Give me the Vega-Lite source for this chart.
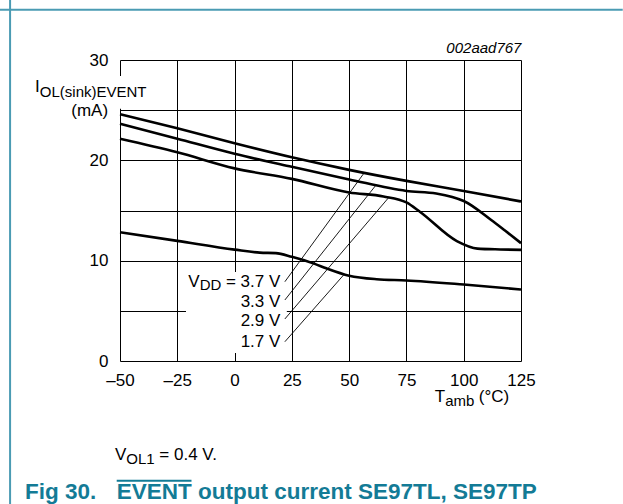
{
  "$schema": "https://vega.github.io/schema/vega-lite/v6.json",
  "width": 401,
  "height": 301,
  "autosize": "none",
  "padding": {"left": 120, "top": 60, "right": 102, "bottom": 143},
  "background": "white",
  "config": {
    "view": {"stroke": null},
    "font": "Liberation Sans",
    "axis": {
      "grid": true,
      "gridColor": "#000000",
      "gridOpacity": 1,
      "gridWidth": 1,
      "domain": false,
      "ticks": false,
      "labelFlush": false,
      "labelOverlap": false,
      "labelBound": false,
      "labelFont": "Liberation Sans",
      "labelFontSize": 17,
      "labelColor": "#000000"
    }
  },
  "datasets": {
    "curves": [
      {"vdd": "3.7 V", "temp": -50, "current": 24.6},
      {"vdd": "3.7 V", "temp": -25, "current": 23.2},
      {"vdd": "3.7 V", "temp": 0, "current": 21.7},
      {"vdd": "3.7 V", "temp": 25, "current": 20.3},
      {"vdd": "3.7 V", "temp": 50, "current": 19.05},
      {"vdd": "3.7 V", "temp": 75, "current": 17.95},
      {"vdd": "3.7 V", "temp": 100, "current": 16.95},
      {"vdd": "3.7 V", "temp": 125, "current": 15.9},

      {"vdd": "3.3 V", "temp": -50, "current": 23.65},
      {"vdd": "3.3 V", "temp": -25, "current": 22.15},
      {"vdd": "3.3 V", "temp": 0, "current": 20.65},
      {"vdd": "3.3 V", "temp": 25, "current": 19.35},
      {"vdd": "3.3 V", "temp": 50, "current": 18.1},
      {"vdd": "3.3 V", "temp": 75, "current": 16.95},
      {"vdd": "3.3 V", "temp": 88, "current": 16.7},
      {"vdd": "3.3 V", "temp": 95, "current": 16.35},
      {"vdd": "3.3 V", "temp": 100, "current": 15.95},
      {"vdd": "3.3 V", "temp": 112, "current": 14.05},
      {"vdd": "3.3 V", "temp": 118, "current": 13.0},
      {"vdd": "3.3 V", "temp": 125, "current": 11.75},

      {"vdd": "2.9 V", "temp": -50, "current": 22.15},
      {"vdd": "2.9 V", "temp": -25, "current": 20.8},
      {"vdd": "2.9 V", "temp": 0, "current": 19.2},
      {"vdd": "2.9 V", "temp": 25, "current": 18.15},
      {"vdd": "2.9 V", "temp": 50, "current": 16.8},
      {"vdd": "2.9 V", "temp": 65, "current": 16.4},
      {"vdd": "2.9 V", "temp": 75, "current": 15.8},
      {"vdd": "2.9 V", "temp": 81, "current": 14.85},
      {"vdd": "2.9 V", "temp": 97, "current": 11.95},
      {"vdd": "2.9 V", "temp": 106, "current": 11.2},
      {"vdd": "2.9 V", "temp": 116, "current": 11.12},
      {"vdd": "2.9 V", "temp": 125, "current": 11.08},

      {"vdd": "1.7 V", "temp": -50, "current": 12.83},
      {"vdd": "1.7 V", "temp": -25, "current": 11.97},
      {"vdd": "1.7 V", "temp": 0, "current": 11.1},
      {"vdd": "1.7 V", "temp": 11, "current": 10.8},
      {"vdd": "1.7 V", "temp": 18, "current": 10.75},
      {"vdd": "1.7 V", "temp": 25, "current": 10.38},
      {"vdd": "1.7 V", "temp": 35, "current": 9.68},
      {"vdd": "1.7 V", "temp": 40, "current": 9.24},
      {"vdd": "1.7 V", "temp": 50, "current": 8.5},
      {"vdd": "1.7 V", "temp": 62, "current": 8.15},
      {"vdd": "1.7 V", "temp": 75, "current": 8.03},
      {"vdd": "1.7 V", "temp": 100, "current": 7.62},
      {"vdd": "1.7 V", "temp": 125, "current": 7.13}
    ],
    "leaders": [
      {"vdd": "3.7 V", "t1": 21.95, "i1": 7.9, "t2": 56.4, "i2": 18.7},
      {"vdd": "3.3 V", "t1": 21.95, "i1": 6.08, "t2": 61.6, "i2": 17.5},
      {"vdd": "2.9 V", "t1": 21.95, "i1": 4.19, "t2": 67.3, "i2": 16.3},
      {"vdd": "1.7 V", "t1": 21.95, "i1": 1.92, "t2": 47.7, "i2": 8.6}
    ],
    "one": [{}]
  },
  "layer": [
    {
      "data": {"name": "curves"},
      "mark": {"type": "line", "stroke": "#000000", "strokeWidth": 2.6, "interpolate": "monotone", "strokeJoin": "round"},
      "encoding": {
        "x": {
          "field": "temp", "type": "quantitative",
          "scale": {"domain": [-50, 125], "nice": false, "zero": false},
          "axis": {
            "title": null,
            "values": [-50, -25, 0, 25, 50, 75, 100, 125],
            "labelPadding": 11,
            "labelExpr": "replace(datum.label, '\u2212', '\u2013')"
          }
        },
        "y": {
          "field": "current", "type": "quantitative",
          "scale": {"domain": [0, 30], "nice": false, "zero": false},
          "axis": {
            "title": null,
            "values": [0, 5, 10, 15, 20, 25, 30],
            "labelPadding": 12,
            "labelExpr": "datum.value % 10 == 0 ? datum.label : ''"
          }
        },
        "detail": {"field": "vdd"}
      }
    },
    {
      "data": {"name": "one"},
      "mark": {"type": "rect", "fill": "white"},
      "encoding": {
        "x": {"datum": -52.2, "axis": {"title": null}}, "x2": {"datum": -38.2},
        "y": {"datum": 28.4, "axis": {"title": null}}, "y2": {"datum": 25.15}
      }
    },
    {
      "data": {"name": "one"},
      "mark": {"type": "rect", "fill": "white"},
      "encoding": {
        "x": {"datum": -21.2, "axis": {"title": null}}, "x2": {"datum": 22.8},
        "y": {"datum": 8.87, "axis": {"title": null}}, "y2": {"datum": 0.8}
      }
    },
    {
      "data": {"name": "leaders"},
      "mark": {"type": "rule", "stroke": "#000000", "strokeWidth": 0.9},
      "encoding": {
        "x": {"field": "t1", "type": "quantitative", "axis": {"title": null}},
        "y": {"field": "i1", "type": "quantitative", "axis": {"title": null}},
        "x2": {"field": "t2"},
        "y2": {"field": "i2"}
      }
    },
    {
      "data": {"name": "one"},
      "mark": {"type": "text", "text": "002aad767", "align": "right", "baseline": "alphabetic", "fontSize": 15, "fontStyle": "italic", "font": "Liberation Sans", "color": "#000000"},
      "encoding": {"x": {"datum": 125.2, "axis": {"title": null}}, "y": {"datum": 30.7, "axis": {"title": null}}}
    },
    {
      "data": {"name": "one"},
      "mark": {"type": "text", "text": "I", "align": "left", "baseline": "alphabetic", "fontSize": 17, "font": "Liberation Sans", "color": "#000000"},
      "encoding": {"x": {"datum": -87.07, "axis": {"title": null}}, "y": {"datum": 26.78, "axis": {"title": null}}}
    },
    {
      "data": {"name": "one"},
      "mark": {"type": "text", "text": "OL(sink)EVENT", "align": "left", "baseline": "alphabetic", "fontSize": 15, "font": "Liberation Sans", "color": "#000000"},
      "encoding": {"x": {"datum": -85.0, "axis": {"title": null}}, "y": {"datum": 26.28, "axis": {"title": null}}}
    },
    {
      "data": {"name": "one"},
      "mark": {"type": "text", "text": "(mA)", "align": "right", "baseline": "alphabetic", "fontSize": 17, "font": "Liberation Sans", "color": "#000000"},
      "encoding": {"x": {"datum": -55.2, "axis": {"title": null}}, "y": {"datum": 24.37, "axis": {"title": null}}}
    },
    {
      "data": {"name": "one"},
      "mark": {"type": "text", "text": "V", "align": "right", "baseline": "alphabetic", "fontSize": 17, "font": "Liberation Sans", "color": "#000000"},
      "encoding": {"x": {"datum": -15.24, "axis": {"title": null}}, "y": {"datum": 7.33, "axis": {"title": null}}}
    },
    {
      "data": {"name": "one"},
      "mark": {"type": "text", "text": "DD", "align": "right", "baseline": "alphabetic", "fontSize": 15, "font": "Liberation Sans", "color": "#000000"},
      "encoding": {"x": {"datum": -5.78, "axis": {"title": null}}, "y": {"datum": 7.03, "axis": {"title": null}}}
    },
    {
      "data": {"name": "one"},
      "mark": {"type": "text", "text": "= 3.7 V", "align": "right", "baseline": "alphabetic", "fontSize": 17, "font": "Liberation Sans", "color": "#000000"},
      "encoding": {"x": {"datum": 19.97, "axis": {"title": null}}, "y": {"datum": 7.33, "axis": {"title": null}}}
    },
    {
      "data": {"name": "one"},
      "mark": {"type": "text", "text": "3.3 V", "align": "right", "baseline": "alphabetic", "fontSize": 17, "font": "Liberation Sans", "color": "#000000"},
      "encoding": {"x": {"datum": 19.97, "axis": {"title": null}}, "y": {"datum": 5.38, "axis": {"title": null}}}
    },
    {
      "data": {"name": "one"},
      "mark": {"type": "text", "text": "2.9 V", "align": "right", "baseline": "alphabetic", "fontSize": 17, "font": "Liberation Sans", "color": "#000000"},
      "encoding": {"x": {"datum": 19.97, "axis": {"title": null}}, "y": {"datum": 3.49, "axis": {"title": null}}}
    },
    {
      "data": {"name": "one"},
      "mark": {"type": "text", "text": "1.7 V", "align": "right", "baseline": "alphabetic", "fontSize": 17, "font": "Liberation Sans", "color": "#000000"},
      "encoding": {"x": {"datum": 19.97, "axis": {"title": null}}, "y": {"datum": 1.35, "axis": {"title": null}}}
    },
    {
      "data": {"name": "one"},
      "mark": {"type": "text", "text": "T", "align": "left", "baseline": "alphabetic", "fontSize": 17, "font": "Liberation Sans", "color": "#000000"},
      "encoding": {"x": {"datum": 87.37, "axis": {"title": null}}, "y": {"datum": -4.06, "axis": {"title": null}}}
    },
    {
      "data": {"name": "one"},
      "mark": {"type": "text", "text": "amb", "align": "left", "baseline": "alphabetic", "fontSize": 15, "font": "Liberation Sans", "color": "#000000"},
      "encoding": {"x": {"datum": 91.9, "axis": {"title": null}}, "y": {"datum": -4.44, "axis": {"title": null}}}
    },
    {
      "data": {"name": "one"},
      "mark": {"type": "text", "text": "(°C)", "align": "left", "baseline": "alphabetic", "fontSize": 17, "font": "Liberation Sans", "color": "#000000"},
      "encoding": {"x": {"datum": 106.55, "axis": {"title": null}}, "y": {"datum": -4.06, "axis": {"title": null}}}
    },
    {
      "data": {"name": "one"},
      "mark": {"type": "text", "text": "V", "align": "left", "baseline": "alphabetic", "fontSize": 17, "font": "Liberation Sans", "color": "#000000"},
      "encoding": {"x": {"datum": -52.18, "axis": {"title": null}}, "y": {"datum": -9.87, "axis": {"title": null}}}
    },
    {
      "data": {"name": "one"},
      "mark": {"type": "text", "text": "OL1", "align": "left", "baseline": "alphabetic", "fontSize": 15, "font": "Liberation Sans", "color": "#000000"},
      "encoding": {"x": {"datum": -47.25, "axis": {"title": null}}, "y": {"datum": -10.22, "axis": {"title": null}}}
    },
    {
      "data": {"name": "one"},
      "mark": {"type": "text", "text": "= 0.4 V.", "align": "left", "baseline": "alphabetic", "fontSize": 17, "font": "Liberation Sans", "color": "#000000"},
      "encoding": {"x": {"datum": -32.82, "axis": {"title": null}}, "y": {"datum": -9.87, "axis": {"title": null}}}
    },
    {
      "data": {"name": "one"},
      "mark": {"type": "text", "text": "Fig 30.", "align": "left", "baseline": "alphabetic", "fontSize": 22.5, "fontWeight": "bold", "font": "Liberation Sans", "color": "#137b96"},
      "encoding": {"x": {"datum": -91.43, "axis": {"title": null}}, "y": {"datum": -13.78, "axis": {"title": null}}}
    },
    {
      "data": {"name": "one"},
      "mark": {"type": "text", "text": "EVENT output current SE97TL, SE97TP", "align": "left", "baseline": "alphabetic", "fontSize": 22.5, "fontWeight": "bold", "font": "Liberation Sans", "color": "#137b96"},
      "encoding": {"x": {"datum": -51.44, "axis": {"title": null}}, "y": {"datum": -13.78, "axis": {"title": null}}}
    },
    {
      "data": {"name": "one"},
      "mark": {"type": "rule", "stroke": "#137b96", "strokeWidth": 2},
      "encoding": {
        "x": {"datum": -51.44, "axis": {"title": null}}, "x2": {"datum": -18.8},
        "y": {"datum": -11.93, "axis": {"title": null}}
      }
    },
    {
      "data": {"name": "one"},
      "mark": {"type": "rule", "stroke": "#4a9bb3", "strokeWidth": 2},
      "encoding": {
        "x": {"datum": -102.4, "axis": {"title": null}}, "x2": {"datum": 169.4},
        "y": {"datum": 35.0, "axis": {"title": null}}
      }
    },
    {
      "data": {"name": "one"},
      "mark": {"type": "rule", "stroke": "#4a9bb3", "strokeWidth": 2},
      "encoding": {
        "x": {"datum": -97.97, "axis": {"title": null}},
        "y": {"datum": 36.1, "axis": {"title": null}}, "y2": {"datum": -14.3}
      }
    }
  ]
}
